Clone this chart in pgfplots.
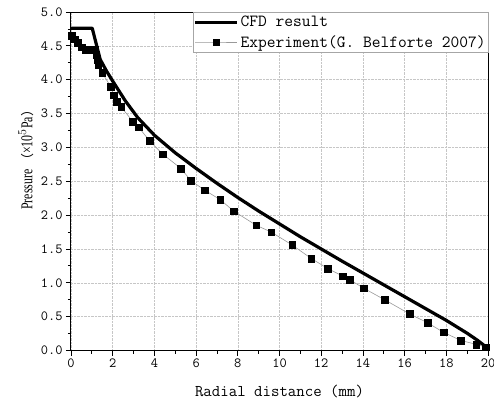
\documentclass[border=0pt]{standalone}
\usepackage{pgfplots}
\pgfplotsset{compat=1.18}
\usepackage{fontspec}
\setmainfont{Liberation Serif}
\newfontfamily\ylf[FakeStretch=0.72]{Liberation Serif}
\newfontfamily\cjk{Noto Sans CJK SC}
\begin{document}
\begin{tikzpicture}
\begin{axis}[
  scale only axis,
  width=417pt, height=338.5pt,
  xmin=0, xmax=20, ymin=0, ymax=5,
  xtick={0,2,...,20}, ytick={0,0.5,...,5},
  minor x tick num=1, minor y tick num=1,
  tick align=outside,
  xtick pos=lower, ytick pos=left,
  major tick length=5pt, minor tick length=3pt,
  every tick/.style={black, line width=0.8pt},
  axis line style={black, line width=1pt},
  grid=major,
  grid style={densely dotted, gray!45, line width=0.6pt},
  /pgf/number format/assume math mode=true,
  yticklabel style={/pgf/number format/.cd, fixed, fixed zerofill, precision=1},
  tick label style={font=\ttfamily\fontsize{14}{14}\selectfont},
  xlabel={Radial distance (mm)},
  xlabel style={font=\ttfamily\fontsize{16.4}{18}\selectfont, at={(axis description cs:0.5,-0.137)}, anchor=base},
  ylabel={\ylf Pressure\,{\cjk\fontsize{13}{14}\selectfont （}×10$^5$Pa{\cjk\fontsize{13}{14}\selectfont ）}},
  ylabel style={font=\fontsize{16.5}{17}\selectfont, at={(axis description cs:-0.108,0.572)}, anchor=center},
  legend cell align=left,
  legend style={at={(1,1)}, anchor=north east, draw=gray!70, line width=0.5pt,
    font=\ttfamily\fontsize{17}{18}\selectfont, inner xsep=0pt, inner ysep=2pt,
    row sep=3pt},
  legend image code/.code={\draw[mark repeat=2,mark phase=2,#1] plot coordinates {(-14pt,0pt) (7pt,0pt) (28pt,0pt)};},
]
\addplot[black, line width=3.2pt, line join=round] coordinates {
(0,4.76) (1.02,4.76) (1.2,4.54) (1.4,4.30) (1.7,4.13) (2.0,3.98) (2.6,3.69)
(3.2,3.44) (4.0,3.18) (5.0,2.92) (6.0,2.69) (7.0,2.47) (8.0,2.26) (9.0,2.06)
(10.0,1.87) (11.0,1.68) (12.0,1.50) (13.0,1.32) (14.0,1.145) (15.0,0.97)
(16.0,0.795) (17.0,0.62) (18.0,0.445) (19.0,0.255) (19.5,0.15) (20.0,0.03)
};
\addlegendentry{CFD result}
\addplot[gray!80, line width=0.6pt, mark=square*, mark size=3.3pt,
  mark options={fill=black, draw=black, line width=0.3pt}] coordinates {
(0.03,4.65) (0.18,4.60) (0.33,4.55) (0.5,4.48) (0.67,4.44) (0.9,4.44)
(1.12,4.45) (1.2,4.37) (1.25,4.30) (1.3,4.22) (1.5,4.10) (1.9,3.90)
(2.05,3.77) (2.2,3.68) (2.4,3.60) (2.97,3.38) (3.24,3.30) (3.76,3.10)
(4.4,2.90) (5.27,2.69) (5.75,2.51) (6.4,2.37) (7.15,2.23) (7.8,2.06)
(8.88,1.85) (9.6,1.75) (10.6,1.56) (11.52,1.36) (12.32,1.21) (13.03,1.10)
(13.35,1.05) (14.04,0.92) (15.04,0.75) (16.24,0.54) (17.1,0.41) (17.86,0.27)
(18.68,0.15) (19.44,0.09) (19.9,0.05)
};
\addlegendentry{Experiment(G. Belforte 2007)}
\end{axis}
\pgfresetboundingbox
\path[use as bounding box] (current axis.south west) ++(-71pt,-49.5pt) rectangle ++(494pt,400pt);
\end{tikzpicture}
\end{document}
